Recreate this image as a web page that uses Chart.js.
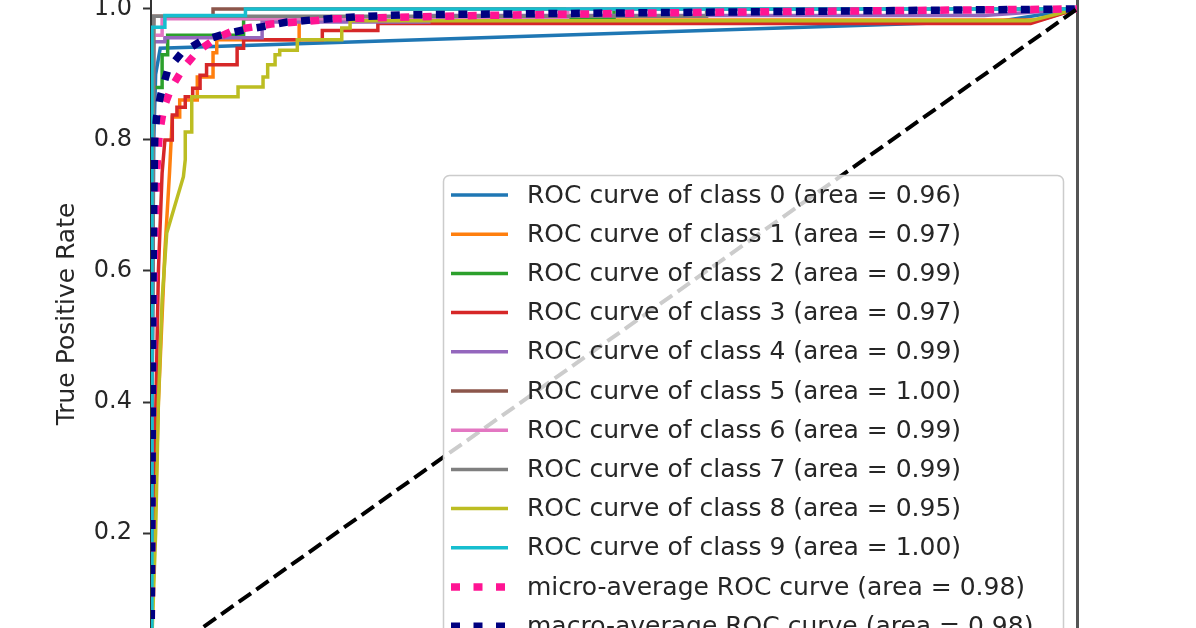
<!DOCTYPE html>
<html>
<head>
<meta charset="utf-8">
<title>ROC curves</title>
<script src="https://cdn.jsdelivr.net/npm/chart.js@4.4.1/dist/chart.umd.min.js"></script>
<style>
  html, body { margin: 0; padding: 0; background: #fff; }
  #wrap { width: 1196px; height: 628px; }
</style>
</head>
<body>
<div id="wrap"><canvas id="roc" width="1196" height="628"></canvas></div>
<script>
// areas shown in the legend
const classAreas = [0.96, 0.97, 0.99, 0.97, 0.99, 1.00, 0.99, 0.99, 0.95, 1.00];
const microArea = 0.98;
const macroArea = 0.98;

// per class curves (false positive rate / true positive rate)
const fpr0 = [0, 0.001, 0.003, 0.005, 0.01, 0.92, 1];
const tpr0 = [0, 0.4, 0.8, 0.9, 0.94, 0.982, 1];

const fpr1 = [0, 0.004, 0.008, 0.015, 0.02, 0.023, 0.031, 0.031, 0.05, 0.05, 0.067, 0.067, 0.071, 0.071, 0.16, 0.16, 0.96, 1];
const tpr1 = [0, 0.2, 0.4, 0.63, 0.75, 0.835, 0.835, 0.861, 0.861, 0.896, 0.896, 0.933, 0.933, 0.953, 0.953, 0.983, 0.983, 1];

const fpr2 = [0, 0.002, 0.012, 0.012, 0.018, 0.018, 0.1, 0.1, 0.5, 0.5, 1];
const tpr2 = [0, 0.88, 0.88, 0.93, 0.93, 0.96, 0.96, 0.985, 0.985, 1, 1];

const fpr3 = [0, 0.004, 0.008, 0.012, 0.015, 0.023, 0.023, 0.028, 0.028, 0.037, 0.037, 0.045, 0.045, 0.053, 0.053, 0.06, 0.06, 0.093, 0.093, 0.1, 0.1, 0.185, 0.185, 0.245, 0.245, 0.95, 1];
const tpr3 = [0, 0.3, 0.6, 0.75, 0.8, 0.8, 0.838, 0.838, 0.85, 0.85, 0.866, 0.866, 0.879, 0.879, 0.899, 0.899, 0.915, 0.915, 0.94, 0.94, 0.953, 0.953, 0.967, 0.967, 0.978, 0.978, 1];

const fpr4 = [0, 0.003, 0.015, 0.015, 0.12, 0.12, 0.3, 0.3, 0.9, 1];
const tpr4 = [0, 0.95, 0.95, 0.956, 0.956, 0.98, 0.98, 0.99, 0.99, 1];

const fpr5 = [0, 0.003, 0.067, 0.067, 1];
const tpr5 = [0, 0.989, 0.989, 1, 1];

const fpr6 = [0, 0.002, 0.012, 0.012, 0.45, 0.45, 1];
const tpr6 = [0, 0.96, 0.96, 0.985, 0.985, 1, 1];

const fpr7 = [0, 0.003, 0.6, 0.6, 1];
const tpr7 = [0, 0.989, 0.989, 1, 1];

const fpr8 = [0, 0.005, 0.008, 0.012, 0.017, 0.035, 0.037, 0.037, 0.044, 0.044, 0.094, 0.094, 0.121, 0.121, 0.126, 0.126, 0.134, 0.134, 0.139, 0.139, 0.158, 0.158, 0.206, 0.206, 0.215, 0.215, 0.95, 1];
const tpr8 = [0, 0.2, 0.4, 0.556, 0.658, 0.744, 0.77, 0.812, 0.812, 0.866, 0.866, 0.881, 0.881, 0.896, 0.896, 0.915, 0.915, 0.93, 0.93, 0.937, 0.937, 0.953, 0.953, 0.971, 0.971, 0.982, 0.982, 1];

const fpr9 = [0, 0.001, 0.015, 0.015, 0.102, 0.102, 1];
const tpr9 = [0, 0.972, 0.972, 0.99, 0.99, 1, 1];

const fprMicro = [0, 0.001, 0.002, 0.004, 0.006, 0.009, 0.014, 0.022, 0.035, 0.05, 0.07, 0.09, 0.13, 0.2, 0.35, 0.6, 1];
const tprMicro = [0, 0.2, 0.45, 0.65, 0.75, 0.81, 0.85, 0.88, 0.91, 0.935, 0.955, 0.968, 0.977, 0.985, 0.99, 0.995, 1];

const fprMacro = [0, 0.001, 0.002, 0.003, 0.004, 0.006, 0.01, 0.018, 0.033, 0.053, 0.075, 0.1, 0.121, 0.147, 0.172, 0.222, 0.269, 0.593, 1];
const tprMacro = [0, 0.25, 0.556, 0.708, 0.8, 0.835, 0.866, 0.907, 0.933, 0.95, 0.96, 0.968, 0.973, 0.98, 0.983, 0.988, 0.991, 0.995, 1];

const fprChance = [0, 1];
const tprChance = [0, 1];

const yTicks = [0.2, 0.4, 0.6, 0.8, 1.0];
const yTickLabels = ['0.2', '0.4', '0.6', '0.8', '1.0'];

// visible window of the y axis (the picture is cropped)
const yMin = 0.055;
const yMax = 1.0137;

const classColors = ['#1f77b4', '#ff7f0e', '#2ca02c', '#d62728', '#9467bd',
                     '#8c564b', '#e377c2', '#7f7f7f', '#bcbd22', '#17becf'];

const classFpr = [fpr0, fpr1, fpr2, fpr3, fpr4, fpr5, fpr6, fpr7, fpr8, fpr9];
const classTpr = [tpr0, tpr1, tpr2, tpr3, tpr4, tpr5, tpr6, tpr7, tpr8, tpr9];

function pts(xs, ys) {
  return xs.map((x, i) => ({ x: x, y: ys[i] }));
}

const FONT = '"DejaVu Sans", "Liberation Sans", sans-serif';
const TEXT = '#262626';

const datasets = classFpr.map((f, i) => ({
  label: `ROC curve of class ${i} (area = ${classAreas[i].toFixed(2)})`,
  data: pts(f, classTpr[i]),
  borderColor: classColors[i],
  borderWidth: 3.5
}));
datasets.push({
  label: `micro-average ROC curve (area = ${microArea.toFixed(2)})`,
  data: pts(fprMicro, tprMicro),
  borderColor: 'deeppink',
  borderWidth: 7.5,
  borderDash: [9, 13.5]
});
datasets.push({
  label: `macro-average ROC curve (area = ${macroArea.toFixed(2)})`,
  data: pts(fprMacro, tprMacro),
  borderColor: 'navy',
  borderWidth: 7.5,
  borderDash: [9, 13.5]
});
datasets.push({
  label: '',
  data: pts(fprChance, tprChance),
  borderColor: '#000',
  borderWidth: 4,
  borderDash: [15, 6.5]
});

// matplotlib draws later lines on top
datasets.forEach((d, i) => {
  d.showLine = true;
  d.pointRadius = 0;
  d.tension = 0;
  d.fill = false;
  d.order = datasets.length - i;
});

// legend box in the lower right, drawn over the lines like matplotlib does
const legendBox = {
  id: 'legendBox',
  afterDatasetsDraw(chart) {
    const ctx = chart.ctx;
    const area = chart.chartArea;
    const items = chart.data.datasets.filter(d => d.label);
    const right = area.right - 14;
    const left = 443;
    const top = 175;
    ctx.save();
    ctx.beginPath();
    ctx.roundRect(left + 0.5, top + 0.5, right - left, 480, 6);
    ctx.fillStyle = 'rgba(255,255,255,0.8)';
    ctx.fill();
    ctx.strokeStyle = '#cccccc';
    ctx.lineWidth = 1.5;
    ctx.stroke();
    ctx.font = '25px ' + FONT;
    ctx.textBaseline = 'middle';
    items.forEach((d, i) => {
      const y = top + 20 + i * 39.2;
      ctx.beginPath();
      ctx.setLineDash(d.borderDash || []);
      ctx.lineWidth = d.borderWidth;
      ctx.strokeStyle = d.borderColor;
      ctx.moveTo(451, y);
      ctx.lineTo(508, y);
      ctx.stroke();
      ctx.setLineDash([]);
      ctx.fillStyle = TEXT;
      ctx.fillText(d.label, 527, y + 1);
    });
    ctx.restore();
  }
};

new Chart(document.getElementById('roc'), {
  type: 'scatter',
  data: { datasets: datasets },
  plugins: [legendBox],
  options: {
    responsive: false,
    animation: false,
    events: [],
    layout: { padding: { left: 0, right: 119, top: 0, bottom: 0 } },
    plugins: {
      legend: { display: false },
      tooltip: { enabled: false }
    },
    scales: {
      x: { type: 'linear', min: 0, max: 1, display: false },
      y: {
        type: 'linear',
        position: 'left',
        min: yMin,
        max: yMax,
        afterBuildTicks: s => { s.ticks = yTicks.map(v => ({ value: v })); },
        afterFit: s => { s.width = 151; s.paddingTop = 0; s.paddingBottom = 0; },
        ticks: {
          callback: (v, i) => yTickLabels[i],
          font: { family: FONT, size: 24 },
          color: TEXT,
          padding: 11
        },
        grid: { drawOnChartArea: false, tickLength: 8, tickWidth: 2, tickColor: '#333' },
        border: { display: true, color: '#333', width: 2 },
        title: {
          display: true,
          text: 'True Positive Rate',
          font: { family: FONT, size: 25 },
          color: TEXT,
          padding: { top: 52, bottom: 0 }
        }
      },
      yRight: {
        type: 'linear',
        position: 'right',
        min: yMin,
        max: yMax,
        afterFit: s => { s.width = 0; s.paddingTop = 0; s.paddingBottom = 0; },
        ticks: { display: false },
        grid: { display: false, drawTicks: false },
        border: { display: true, color: '#555', width: 3 }
      }
    }
  }
});
</script>
</body>
</html>
